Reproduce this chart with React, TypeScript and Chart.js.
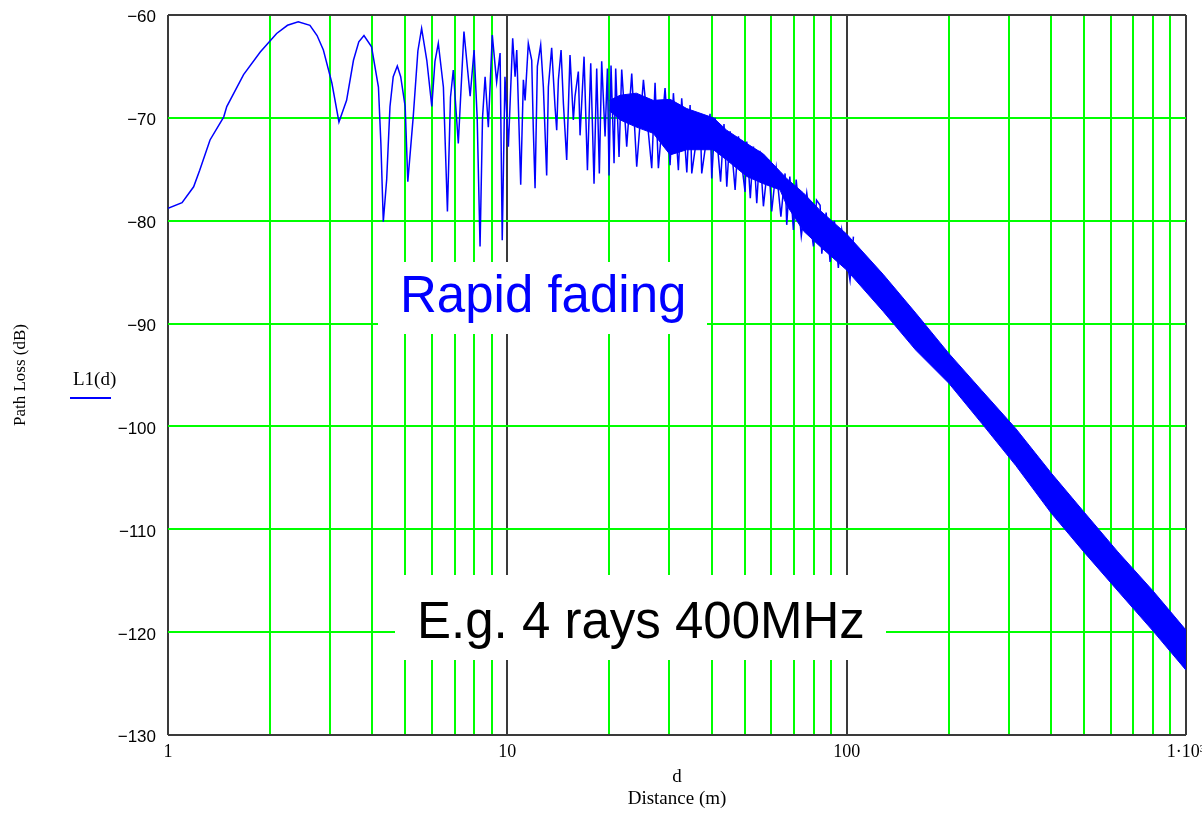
import React, { useEffect, useRef } from 'react';
import { Chart, registerables } from 'chart.js';

Chart.register(...registerables);

// ---- Data ----
// Oscillating trace (distance in m, path loss in dB)
const traceDistance = [
  1.0, 1.1, 1.19, 1.24, 1.33, 1.46, 1.49, 1.67, 1.87, 2.09, 2.25, 2.42, 2.62, 2.75, 2.87, 3.04, 3.19, 3.36, 3.52, 3.65,
  3.78, 3.98, 4.17, 4.24, 4.31, 4.41, 4.51, 4.61, 4.74, 4.85, 5.0, 5.09, 5.28, 5.45, 5.59, 5.79, 5.99, 6.12, 6.26, 6.48,
  6.66, 6.8, 6.93, 7.17, 7.45, 7.77, 7.98, 8.15, 8.31, 8.45, 8.6, 8.79, 9.03, 9.3, 9.52, 9.66, 9.84, 10.07, 10.37, 10.54,
  10.66, 10.95, 11.15, 11.28, 11.53, 11.8, 11.93, 12.07, 12.26, 12.54, 12.77, 13.06, 13.21, 13.51, 13.82, 13.98, 14.14,
  14.4, 14.63, 14.96, 15.3, 15.65, 15.83, 16.19, 16.38, 16.83, 17.22, 17.61, 18.01, 18.34, 18.67, 18.97, 19.41, 19.72,
  19.94, 20.21, 20.63, 20.86, 21.34, 21.73, 22.48, 23.26, 24.06, 25.18, 26.64, 27.25, 27.87, 29.16, 30.17, 30.86, 31.92,
  32.65, 33.8, 34.56, 34.95, 36.98, 37.4, 39.58, 40.03, 40.95, 42.5, 43.5, 44.33, 45.35, 46.91, 47.97, 50.19, 50.76,
  52.0, 53.12, 54.33, 55.5, 56.84, 58.8, 60.13, 62.0, 64.0, 65.84, 66.58, 68.0, 69.66, 71.0, 73.5, 76.28, 79.8, 81.5,
  83.51, 84.47, 87.0, 89.36, 92.0, 94.5, 96.72, 102.3, 104.7,
];
const traceLoss = [
  -78.8, -78.25, -76.7, -75.1, -72.15, -69.9, -68.9, -65.8, -63.6, -61.8, -61.0, -60.65, -61.0, -62.0, -63.4, -66.6, -70.4, -68.3, -64.4, -62.6,
  -62.0, -63.1, -67.0, -72.5, -80.1, -76.0, -68.9, -66.0, -64.96, -66.0, -68.9, -76.2, -69.9, -63.5, -61.3, -64.4, -68.9, -64.5, -62.75, -67.0,
  -79.1, -68.0, -65.35, -72.5, -61.6, -67.9, -63.4, -70.0, -82.5, -70.0, -66.0, -70.9, -61.95, -66.5, -63.7, -81.9, -66.0, -72.8, -62.27, -66.0,
  -63.4, -76.5, -66.3, -68.3, -62.75, -64.4, -71.2, -76.85, -65.0, -62.9, -67.0, -75.6, -67.0, -63.2, -68.9, -71.2, -66.3,
  -63.4, -68.6, -74.1, -63.9, -70.2, -67.9, -65.5, -71.7, -64.05, -75.1, -64.7, -76.4, -65.2, -75.4, -64.5, -71.8, -65.2,
  -75.6, -64.9, -74.4, -65.2, -73.8, -65.3, -72.8, -65.7, -74.75, -66.3, -74.9, -66.6, -74.9, -67.1, -74.6, -67.6, -75.1,
  -68.1, -75.3, -68.75, -75.4, -69.6, -75.4, -69.6, -75.9, -70.0, -76.2, -70.6, -76.7, -71.3, -77.0, -71.8, -77.2, -72.3,
  -77.8, -72.8, -78.3, -73.2, -78.6, -74.0, -79.1, -74.9, -79.6, -75.4, -80.4, -75.7, -80.9, -76.0, -81.5, -77.3, -82.5, -78.0,
  -78.5, -83.2, -79.2, -84.0, -80.0, -84.6, -80.9, -85.8, -81.55,
];
// Dense fading band (upper / lower edge of the filled region)
const bandDistance = [20, 21.5, 24, 26.9, 30.2, 33.8, 40.5, 44.3, 50.8, 56.8, 63.6, 66.6, 74.6, 83.5, 100, 128, 160, 200, 250, 315, 400, 500, 630, 800, 1000];
const bandUpper = [-68.3, -67.8, -67.6, -68.3, -68.2, -69.1, -70.0, -71.2, -72.5, -73.5, -75.2, -75.9, -77.3, -79.0, -81.3, -85.2, -89.0, -92.9, -96.5, -100.2, -104.5, -108.3, -112.2, -116.0, -119.8];
const bandLower = [-69.3, -70.2, -70.9, -71.5, -73.6, -73.1, -73.1, -74.1, -75.7, -76.4, -77.0, -78.5, -81.0, -82.5, -84.8, -88.8, -92.6, -95.8, -99.7, -103.8, -108.4, -112.2, -116.0, -119.9, -123.7];

// Axes
const xGridValues = [
  1, 2, 3, 4, 5, 6, 7, 8, 9,
  10, 20, 30, 40, 50, 60, 70, 80, 90,
  100, 200, 300, 400, 500, 600, 700, 800, 900, 1000,
];
const xLabelValues = [1, 10, 100, 1000];
const xLabelTexts = ['1', '10', '100', '1\u00b710\u00b3'];
const yMin = -130;
const yMax = -60;
const yStep = 10;
const yFrameValues = [-130, -60];

const seriesLabel = 'L1(d)';
const xTitle = ['d', 'Distance (m)'];
const yTitle = 'Path Loss (dB)';
const noteFading = 'Rapid fading';
const noteRays = 'E.g. 4 rays 400MHz';

const BLUE = '#0000ff';
const GREEN = '#00ff00';
const DARK = '#3a3a3a';

const zeroScalePadding = (s: any) => {
  s.paddingTop = 0;
  s.paddingBottom = 0;
  s.paddingLeft = 0;
  s.paddingRight = 0;
};

const overlayPlugin = {
  id: 'overlayNotes',
  beforeDatasetsDraw(chart: any) {
    const { ctx } = chart;
    ctx.save();
    // white boxes hiding the grid behind the notes
    ctx.fillStyle = '#ffffff';
    ctx.fillRect(378, 262, 329, 72);
    ctx.fillRect(395, 575, 491, 85);
    ctx.font = '51px "Liberation Sans", Arial, sans-serif';
    ctx.textAlign = 'left';
    ctx.textBaseline = 'alphabetic';
    ctx.fillStyle = BLUE;
    ctx.fillText(noteFading, 400, 312);
    ctx.fillStyle = '#000000';
    ctx.fillText(noteRays, 417, 638);
    // legend
    ctx.font = '19px "Liberation Serif", "Times New Roman", serif';
    ctx.fillStyle = '#000000';
    ctx.fillText(chart.data.datasets[0].label, 73, 385);
    ctx.strokeStyle = BLUE;
    ctx.lineWidth = 2;
    ctx.beginPath();
    ctx.moveTo(70, 398);
    ctx.lineTo(111, 398);
    ctx.stroke();
    ctx.restore();
  },
};

export default function App() {
  const canvasRef = useRef<HTMLCanvasElement | null>(null);

  useEffect(() => {
    const canvas = canvasRef.current;
    if (!canvas) return;
    const chart = new Chart(canvas, {
      type: 'line',
      data: {
        datasets: [
          {
            label: seriesLabel,
            data: traceDistance.map((d, i) => ({ x: d, y: traceLoss[i] })),
            borderColor: BLUE,
            borderWidth: 1.5,
            pointRadius: 0,
            tension: 0,
            fill: false,
          },
          {
            label: 'band upper',
            data: bandDistance.map((d, i) => ({ x: d, y: bandUpper[i] })),
            borderColor: BLUE,
            borderWidth: 1,
            pointRadius: 0,
            tension: 0,
            fill: false,
          },
          {
            label: 'band lower',
            data: bandDistance.map((d, i) => ({ x: d, y: bandLower[i] })),
            borderColor: BLUE,
            backgroundColor: BLUE,
            borderWidth: 1,
            pointRadius: 0,
            tension: 0,
            fill: '-1',
          },
        ],
      },
      options: {
        animation: false,
        responsive: false,
        events: [],
        layout: { padding: { left: 0, right: 16, top: 15, bottom: 0 }, autoPadding: false },
        plugins: { legend: { display: false }, tooltip: { enabled: false } },
        scales: {
          x: {
            type: 'logarithmic',
            min: 1,
            max: 1000,
            afterBuildTicks: (s: any) => {
              s.ticks = xGridValues.map((v) => ({ value: v }));
            },
            afterFit: (s: any) => {
              s.height = 81;
              zeroScalePadding(s);
            },
            border: { display: false },
            grid: {
              drawTicks: false,
              lineWidth: 2,
              color: (c: any) => (xLabelValues.includes(c.tick?.value) ? DARK : GREEN),
            },
            ticks: {
              autoSkip: false,
              maxRotation: 0,
              padding: 6,
              color: '#000',
              font: { family: '"Liberation Serif", "Times New Roman", serif', size: 18 },
              callback: (v: any) => {
                const k = xLabelValues.indexOf(Number(v));
                return k >= 0 ? xLabelTexts[k] : '';
              },
            },
            title: {
              display: true,
              text: xTitle,
              color: '#000',
              font: { family: '"Liberation Serif", "Times New Roman", serif', size: 19, lineHeight: 1.15 },
              padding: { top: 0, bottom: 6 },
            },
          },
          y: {
            type: 'linear',
            min: yMin,
            max: yMax,
            afterFit: (s: any) => {
              s.width = 168;
              zeroScalePadding(s);
            },
            border: { display: false },
            grid: {
              drawTicks: false,
              lineWidth: 2,
              color: (c: any) => (yFrameValues.includes(c.tick?.value) ? DARK : GREEN),
            },
            ticks: {
              stepSize: yStep,
              padding: 12,
              color: '#000',
              // small line height + empty first line nudges each label ~3px below its grid line
              font: { family: '"Liberation Sans", Arial, sans-serif', size: 17, lineHeight: 0.32 },
              callback: (v: any) => ['', String(v).replace('-', '\u2212')],
            },
            title: {
              display: true,
              text: yTitle,
              color: '#000',
              font: { family: '"Liberation Serif", "Times New Roman", serif', size: 17 },
              padding: { top: 10, bottom: 0 },
            },
          },
        },
      },
      plugins: [overlayPlugin],
    });
    return () => chart.destroy();
  }, []);

  return (
    <div style={{ position: 'fixed', left: 0, top: 0, width: 1202, height: 816, background: '#fff' }}>
      <canvas ref={canvasRef} width={1202} height={816} style={{ display: 'block' }} />
    </div>
  );
}
